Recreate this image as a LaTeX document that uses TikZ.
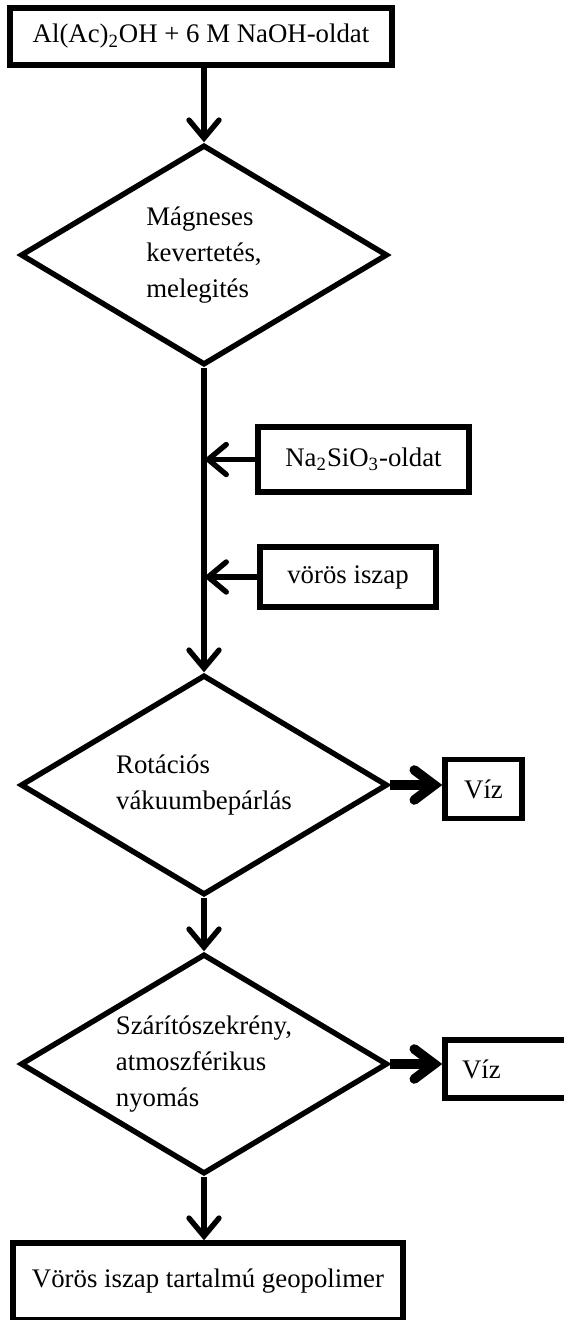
\documentclass[tikz,border=0pt]{standalone}
\usepackage{fontspec}
\setmainfont{Liberation Serif}
\usepackage{tikz}
\usetikzlibrary{arrows.meta}
\usetikzlibrary{shapes.geometric}

\begin{document}
\begin{tikzpicture}[x=0.5pt, y=-0.5pt,
    every node/.style={font=\fontsize{13.4}{18}\selectfont},
    box/.style={draw, line width=2.7pt, inner sep=0pt},
    decision/.style={draw, diamond, aspect=1.67, line width=2.7pt, inner sep=0pt, align=left,
      minimum width=183.5pt, minimum height=110pt},
    flow/.style={line width=2.7pt, -{Straight Barb[length=9pt, width=15pt, line cap=round]}},
    drain/.style={line width=4.8pt, -{Straight Barb[length=10pt, width=15pt, line cap=round]}}]
    \useasboundingbox (0, 0) rectangle (563, 1320);

    \node [box, minimum width=191pt, minimum height=28.5pt] (start) at (201, 36.5) {Al(Ac)\textsubscript{2}OH + 6 M NaOH-oldat};
    \node [decision] (mix) at (204, 255) {Mágneses\\kevertetés,\\melegités};
    \node [box, minimum width=105.5pt, minimum height=32.5pt] (silicate) at (363.5, 459.5) {Na\textsubscript{2}SiO\textsubscript{3}-oldat};
    \node [box, minimum width=88pt, minimum height=30pt] (mud) at (348, 577) {vörös iszap};
    \node [decision] (rotavap) at (204, 785) {Rotációs\\vákuumbepárlás};
    \node [box, minimum width=38.5pt, minimum height=29.5pt] (water1) at (483.5, 789) {Víz};
    \node [decision] (oven) at (204, 1064) {Szárítószekrény,\\atmoszférikus\\nyomás};
    \node [box, inner xsep=8.5pt, text width=48pt, align=left, minimum height=29pt] (water2) at (510, 1069) {Víz};
    \node [box, minimum width=195pt, minimum height=38.5pt] (product) at (208, 1281.5) {Vörös iszap tartalmú geopolimer};

    \draw [flow] (start.south -| mix.north) -- (mix.north);
    \draw [flow] (mix.south) -- (rotavap.north);
    \draw [flow] (silicate.west) -- (silicate.west -| mix.south);
    \draw [flow] (mud.west) -- (mud.west -| mix.south);
    \draw [flow] (rotavap.south) -- (oven.north);
    \draw [flow] (oven.south) -- (oven.south |- product.north);
    \draw [drain] (rotavap.east) -- (rotavap.east -| water1.west);
    \draw [drain] (oven.east) -- (oven.east -| water2.west);
  \end{tikzpicture}
\end{document}
